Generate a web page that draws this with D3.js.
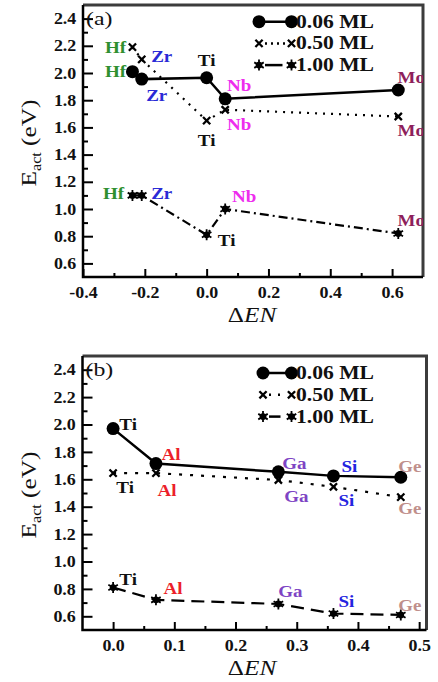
<!DOCTYPE html>
<html>
<head>
<meta charset="utf-8">
<script src="https://cdn.jsdelivr.net/npm/d3@7"></script>
<style>
  body { margin: 0; background: #fff; }
  svg { display: block; }
  svg text { font-family: "Liberation Serif", "Times New Roman", Times, serif; }
</style>
</head>
<body>
<svg id="chart" width="438" height="682"></svg>
<script>
// ---- Panel (a): transition-metal dopants ----
const dopantsA = ["Hf", "Zr", "Ti", "Nb", "Mo"];
const deltaEnA = [-0.24, -0.21, 0.0, 0.06, 0.62];
const eact006A = [2.01, 1.955, 1.965, 1.81, 1.875];
const eact050A = [2.19, 2.10, 1.65, 1.73, 1.68];
const eact100A = [1.10, 1.10, 0.81, 1.00, 0.82];

// ---- Panel (b): main-group dopants ----
const dopantsB = ["Ti", "Al", "Ga", "Si", "Ge"];
const deltaEnB = [0.0, 0.07, 0.27, 0.36, 0.47];
const eact006B = [1.97, 1.715, 1.655, 1.625, 1.615];
const eact050B = [1.645, 1.645, 1.595, 1.545, 1.47];
const eact100B = [0.81, 0.72, 0.69, 0.62, 0.61];

const coverageNames = ["0.06 ML", "0.50 ML", "1.00 ML"];
const yTickValues = [0.6, 0.8, 1.0, 1.2, 1.4, 1.6, 1.8, 2.0, 2.2, 2.4];
const yMinorValues = [0.7, 0.9, 1.1, 1.3, 1.5, 1.7, 1.9, 2.1, 2.3];
const xTicksA = [-0.4, -0.2, 0.0, 0.2, 0.4, 0.6];
const xMinorA = [-0.3, -0.1, 0.1, 0.3, 0.5];
const xTicksB = [0.0, 0.1, 0.2, 0.3, 0.4, 0.5];
const xMinorB = [0.05, 0.15, 0.25, 0.35, 0.45];

const elementColor = {
  Hf: "#2f8f2f", Zr: "#2a2ad6", Ti: "#111111", Nb: "#ee2cee", Mo: "#8e1f5c",
  Al: "#ec1f2a", Ga: "#7e44c4", Si: "#2424e0", Ge: "#bf8f8c"
};

const SERIF = "\"Liberation Serif\", \"Times New Roman\", Times, serif";
const svg = d3.select("#chart");

function markerCircle(g, cx, cy) {
  g.append("circle").attr("cx", cx).attr("cy", cy).attr("r", 6.5).attr("fill", "#000");
}
function markerCross(g, cx, cy) {
  const s = 3.6;
  g.append("path")
    .attr("d", `M${cx - s},${cy - s}L${cx + s},${cy + s}M${cx - s},${cy + s}L${cx + s},${cy - s}`)
    .attr("stroke", "#000").attr("stroke-width", 2.3).attr("fill", "none");
}
function markerStar(g, cx, cy) {
  g.append("circle").attr("cx", cx).attr("cy", cy).attr("r", 3.4).attr("fill", "#000");
  let d = "";
  [90, 30, 150].forEach(a => {
    const r = a * Math.PI / 180, l = 5.5;
    d += `M${cx - l * Math.cos(r)},${cy - l * Math.sin(r)}L${cx + l * Math.cos(r)},${cy + l * Math.sin(r)}`;
  });
  g.append("path").attr("d", d).attr("stroke", "#000").attr("stroke-width", 1.8);
}
const markers = [markerCircle, markerCross, markerStar];

function drawPanel(cfg) {
  const g = svg.append("g");
  const x = d3.scaleLinear().domain(cfg.xDomain).range([cfg.left, cfg.right]);
  const y = d3.scaleLinear().domain([0.5, 2.5]).range([cfg.bottom, cfg.top]);
  const fmt = d => d.toFixed(1);

  const clipId = "clip-" + cfg.tag;
  svg.append("clipPath").attr("id", clipId)
    .append("rect").attr("x", cfg.left).attr("y", cfg.top)
    .attr("width", cfg.right - cfg.left).attr("height", cfg.bottom - cfg.top);

  // axes: inward ticks, majors with labels, unlabeled minors
  const styleAxis = sel => {
    sel.attr("font-family", null).attr("font-size", null);
    sel.select(".domain").remove();
    sel.selectAll(".tick line").attr("stroke", "#000").attr("stroke-width", 2);
    sel.selectAll(".tick text")
      .style("font-family", SERIF).style("font-weight", "bold").style("font-size", "16px")
      .attr("fill", "#111").attr("transform", "scale(1.12,1)");
  };
  g.append("g").attr("transform", `translate(${cfg.left},0)`)
    .call(d3.axisLeft(y).tickValues(yTickValues).tickSize(-10).tickPadding(6).tickFormat(fmt))
    .call(styleAxis);
  g.append("g").attr("transform", `translate(${cfg.left},0)`)
    .call(d3.axisLeft(y).tickValues(yMinorValues).tickSize(-5).tickFormat(""))
    .call(styleAxis);
  g.append("g").attr("transform", `translate(0,${cfg.bottom})`)
    .call(d3.axisBottom(x).tickValues(cfg.xTicks).tickSize(-8).tickPadding(10).tickFormat(fmt))
    .call(styleAxis);
  g.append("g").attr("transform", `translate(0,${cfg.bottom})`)
    .call(d3.axisBottom(x).tickValues(cfg.xMinor).tickSize(-4).tickFormat(""))
    .call(styleAxis);

  // frame
  g.append("path")
    .attr("d", `M${cfg.left},${cfg.top}L${cfg.right},${cfg.top}L${cfg.right},${cfg.bottom}`)
    .attr("fill", "none").attr("stroke", "#3c3c3c").attr("stroke-width", 3);
  g.append("path")
    .attr("d", `M${cfg.left},${cfg.top}L${cfg.left},${cfg.bottom}L${cfg.right},${cfg.bottom}`)
    .attr("fill", "none").attr("stroke", "#000").attr("stroke-width", 2.5);

  // series lines and markers
  const line = d3.line().x(d => x(d[0])).y(d => y(d[1]));
  const plot = g.append("g").attr("clip-path", `url(#${clipId})`);
  cfg.series.forEach((vals, si) => {
    const pts = cfg.den.map((d, i) => [d, vals[i]]);
    plot.append("path").datum(pts).attr("d", line)
      .attr("fill", "none").attr("stroke", "#000")
      .attr("stroke-width", si === 0 ? 2.5 : 2.2)
      .attr("stroke-dasharray", cfg.dashes[si]);
    pts.forEach(p => markers[si](plot, x(p[0]), y(p[1])));
  });

  // dopant labels
  const labels = g.append("g").attr("clip-path", `url(#${clipId})`);
  cfg.series.forEach((vals, si) => {
    cfg.names.forEach((name, i) => {
      const off = cfg.labelOffsets[si][i];
      const cx = x(cfg.den[i]) + off[0];
      const cy = y(vals[i]) + off[1] + 5.8;
      labels.append("text")
        .attr("transform", `translate(${cx},${cy}) scale(1.12,1)`)
        .attr("text-anchor", "middle")
        .style("font-weight", "bold").style("font-size", "17px")
        .attr("fill", elementColor[name]).text(name);
    });
  });

  // legend
  const lg = g.append("g");
  coverageNames.forEach((nm, si) => {
    const ly = cfg.legend.y + si * cfg.legend.gap;
    const x1 = cfg.legend.x1, x2 = cfg.legend.x2;
    const seg = lg.append("line").attr("y1", ly).attr("y2", ly)
      .attr("stroke", "#000").attr("stroke-width", 2.5);
    if (si === 0) seg.attr("x1", x1).attr("x2", x2);
    else if (si === 1) seg.attr("x1", x1 + 6).attr("x2", x2 - 5).attr("stroke-dasharray", cfg.legend.dot);
    else seg.attr("x1", x1 + 6).attr("x2", x2 - cfg.legend.dashGap);
    markers[si](lg, x1, ly);
    markers[si](lg, x2, ly);
    lg.append("text")
      .attr("transform", `translate(${cfg.legend.textX},${ly + 6}) scale(1.2,1)`)
      .style("font-weight", "bold").style("font-size", "18px")
      .attr("fill", "#111").text(nm);
  });

  // panel tag
  g.append("text")
    .attr("transform", `translate(${cfg.left + 3},${cfg.top + 20}) scale(1.25,1)`)
    .style("font-size", "19px").attr("fill", "#111")
    .text(`(${cfg.tag})`);

  // axis titles
  const xt = g.append("text")
    .attr("transform", `translate(252,${cfg.bottom + 45}) scale(1.2,1)`)
    .attr("text-anchor", "middle").style("font-size", "21px").attr("fill", "#111");
  xt.append("tspan").text("\u0394");
  xt.append("tspan").style("font-style", "italic").text("EN");

  const yt = g.append("text")
    .attr("transform", `translate(${cfg.left - 47},${(cfg.top + cfg.bottom) / 2 + 2}) rotate(-90) scale(1.15,1)`)
    .attr("text-anchor", "middle").attr("fill", "#111");
  yt.append("tspan").style("font-size", "22px").text("E");
  yt.append("tspan").style("font-size", "14px").attr("dy", 5).text("act");
  yt.append("tspan").style("font-size", "22px").attr("dy", -5).text("\u00a0(eV)");
}

drawPanel({
  tag: "a",
  left: 83, right: 423, top: 5, bottom: 277,
  xDomain: [-0.4, 0.7], xTicks: xTicksA, xMinor: xMinorA,
  names: dopantsA, den: deltaEnA,
  series: [eact006A, eact050A, eact100A],
  dashes: [null, "2,6", "9,4,2,4"],
  labelOffsets: [
    [[-17, 0], [15, 16], [0, -18], [14, -14], [13, -13]],
    [[-17, 0], [20, -3], [0, 20], [14, 14], [13, 14]],
    [[-19, -2], [20, -2], [20, 5], [19, -13], [13, -13]]
  ],
  legend: { x1: 259, x2: 291.5, y: 21.7, gap: 21.7, textX: 296, dot: "2,4", dashGap: 9 }
});

drawPanel({
  tag: "b",
  left: 82.5, right: 426.5, top: 356, bottom: 630,
  xDomain: [-0.05, 0.512], xTicks: xTicksB, xMinor: xMinorB,
  names: dopantsB, den: deltaEnB,
  series: [eact006B, eact050B, eact100B],
  dashes: [null, "3,8", "13,7"],
  labelOffsets: [
    [[15, -4], [15, -9], [16, -9], [16, -10], [9, -11]],
    [[12, 14], [11, 17], [18, 16], [13, 13], [9, 11]],
    [[15, -8], [17, -12], [12, -13], [13, -12], [9, -10]]
  ],
  legend: { x1: 263, x2: 291.5, y: 373, gap: 21.8, textX: 296, dot: "2,7", dashGap: 11 }
});
</script>
</body>
</html>
